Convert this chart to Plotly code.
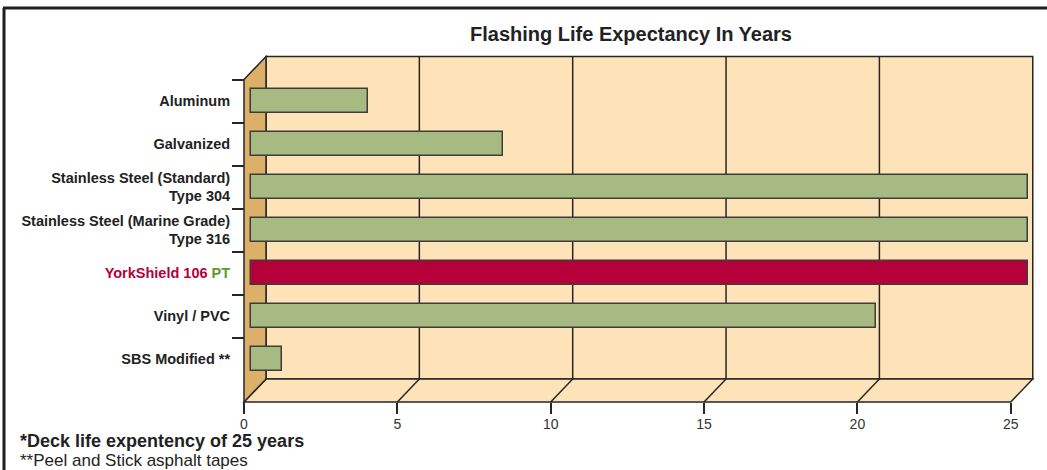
import plotly.graph_objects as go

# ---------------- data ----------------
categories = ["Aluminum", "Galvanized", "Stainless Steel 304", "Stainless Steel 316",
              "YorkShield 106 PT", "Vinyl / PVC", "SBS Modified"]
tick_labels = ["Aluminum", "Galvanized",
               "Stainless Steel (Standard)<br>Type 304",
               "Stainless Steel (Marine Grade)<br>Type 316",
               "<span style='color:#B5003A'>YorkShield 106 </span><span style='color:#5E9A2E'>PT</span>",
               "Vinyl / PVC", "SBS Modified **"]
years = [3.75, 8.1, 25, 25, 25, 20.1, 1]
highlight = "YorkShield 106 PT"
axis_ticks = [0, 5, 10, 15, 20, 25]
title_text = "Flashing Life Expectancy In Years"
note1 = "*Deck life expentency of 25 years"
note2 = "**Peel and Stick asphalt tapes"

# ---------------- layout constants ----------------
W, H = 1047, 470
FONT = "Liberation Sans"
GREEN, RED = "#A6BA82", "#B5003A"
WALL, SIDE, EDGE = "#FFE3B8", "#DDB06A", "#262626"

# bar axis (pixels: value 0 at 251, 31.09 px per year)
bx0, bs = 251, 31.09
bar_range = [-bx0 / bs, (W - bx0) / bs]
# frame axis (front edge: 0 at 244, 30.67 px per year)
fx0, fs = 244, 30.67
frame_range = [-fx0 / fs, (W - fx0) / fs]
# category axis (category 0 centre at y=101 px, 43 px per category)
cy0, cs = 101, 43
y_range = [(H - cy0) / cs, -cy0 / cs]

n = len(categories)
dx = 22 / fs          # depth in frame units
dy = 23 / cs          # depth in category units
ytop, ybot = -0.5, n  # front top / front bottom
xa, xb = axis_ticks[0], axis_ticks[-1]

colors = [RED if c == highlight else GREEN for c in categories]

fig = go.Figure()
fig.add_trace(go.Bar(
    x=years, y=categories, orientation="h", base=0,
    marker=dict(color=colors, line=dict(color="#3c3c3c", width=1.5)),
    width=0.56, hoverinfo="skip", showlegend=False,
    xaxis="x", yaxis="y"))
# helper traces so that overlay subplots exist
fig.add_trace(go.Scatter(x=[xa], y=[categories[0]], mode="markers",
                         marker=dict(opacity=0), hoverinfo="skip",
                         showlegend=False, xaxis="x2", yaxis="y"))
fig.add_trace(go.Scatter(x=[0], y=[0], mode="markers",
                         marker=dict(opacity=0), hoverinfo="skip",
                         showlegend=False, xaxis="x", yaxis="y2"))

shapes = []
def path(pts):
    return "M " + " L ".join(f"{x},{y}" for x, y in pts) + " Z"

# back wall
shapes.append(dict(type="rect", xref="x2", yref="y", layer="below",
                   x0=xa + dx, x1=xb + dx, y0=ytop - dy, y1=ybot - dy,
                   fillcolor=WALL, line=dict(color=EDGE, width=1.5)))
# floor
shapes.append(dict(type="path", xref="x2", yref="y", layer="below",
                   path=path([(xa, ybot), (xb, ybot), (xb + dx, ybot - dy), (xa + dx, ybot - dy)]),
                   fillcolor=WALL, line=dict(color=EDGE, width=1.5)))
# left side wall
shapes.append(dict(type="path", xref="x2", yref="y", layer="below",
                   path=path([(xa, ytop), (xa + dx, ytop - dy), (xa + dx, ybot - dy), (xa, ybot)]),
                   fillcolor=SIDE, line=dict(color=EDGE, width=1.5)))
# grid lines
for v in axis_ticks[1:-1]:
    shapes.append(dict(type="line", xref="x2", yref="y", layer="below",
                       x0=v + dx, x1=v + dx, y0=ytop - dy, y1=ybot - dy,
                       line=dict(color=EDGE, width=1.5)))
    shapes.append(dict(type="line", xref="x2", yref="y", layer="below",
                       x0=v + dx, x1=v, y0=ybot - dy, y1=ybot,
                       line=dict(color=EDGE, width=1.5)))
# outer border
bt = 1 - 8 / H
shapes.append(dict(type="line", xref="paper", yref="paper", x0=3 / W, x1=1, y0=bt, y1=bt,
                   line=dict(color="#1e1e1e", width=3)))
shapes.append(dict(type="line", xref="paper", yref="paper", x0=4 / W, x1=4 / W, y0=0, y1=bt,
                   line=dict(color="#1e1e1e", width=3)))

annotations = [
    dict(text=f"<b>{title_text}</b>", x=631 / W, y=1 - 34 / H, xref="paper", yref="paper",
         showarrow=False, xanchor="center", yanchor="middle",
         font=dict(family=FONT, size=20, color="#222")),
    dict(text=f"<b>{note1}</b>", x=18 / W, y=1 - 441 / H, xref="paper", yref="paper",
         showarrow=False, xanchor="left", yanchor="middle",
         font=dict(family=FONT, size=18, color="#222")),
    dict(text=note2, x=18 / W, y=1 - 460 / H, xref="paper", yref="paper",
         showarrow=False, xanchor="left", yanchor="middle",
         font=dict(family=FONT, size=17, color="#222")),
]

fig.update_layout(
    width=W, height=H, autosize=False,
    margin=dict(l=0, r=0, t=0, b=0, pad=0),
    paper_bgcolor="white", plot_bgcolor="white",
    showlegend=False, bargap=0,
    xaxis=dict(domain=[0, 1], range=bar_range, visible=False, anchor="y"),
    xaxis2=dict(overlaying="x", anchor="free", position=(H - 402) / H, side="bottom",
                range=frame_range, tickmode="array", tickvals=axis_ticks,
                ticks="outside", ticklen=11, tickwidth=1.5, tickcolor=EDGE,
                ticklabelstandoff=-2,
                showgrid=False, zeroline=False, showline=False,
                tickfont=dict(family=FONT, size=14, color="#333")),
    yaxis=dict(domain=[0, 1], type="category", range=y_range, anchor="free",
               position=244 / W, side="left",
               categoryorder="array", categoryarray=categories,
               tickmode="array", tickvals=categories, ticktext=tick_labels,
               ticks="outside", ticklen=11, tickcolor="rgba(0,0,0,0)",
               showgrid=False, zeroline=False, showline=False,
               tickfont=dict(family=FONT, size=14.5, color="#222", weight="bold")),
    yaxis2=dict(overlaying="y", anchor="free", position=244 / W, side="left",
                range=y_range, tickmode="array",
                tickvals=[i - 0.5 for i in range(n)],
                ticks="outside", ticklen=12, tickwidth=1.5, tickcolor=EDGE,
                showticklabels=False, showgrid=False, zeroline=False, showline=False),
    shapes=shapes, annotations=annotations,
)

fig.write_html("out.html", config={"displayModeBar": False},
               post_script="document.body.style.margin='0px';")
